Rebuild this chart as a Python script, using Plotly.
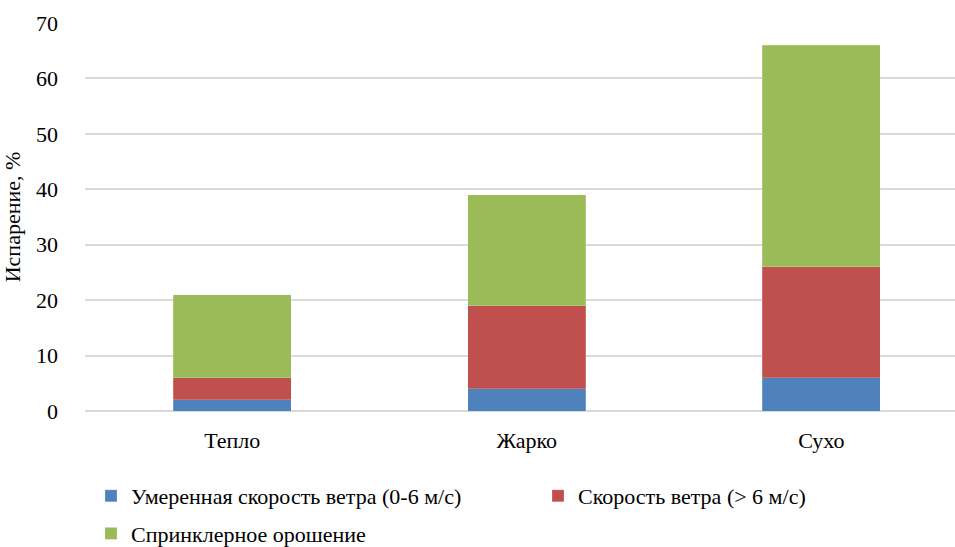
import plotly.graph_objects as go

# Evaporation losses by weather condition, stacked by cause
categories = ["Тепло", "Жарко", "Сухо"]
moderate_wind = [2, 4, 6]
strong_wind = [4, 15, 20]
sprinkler = [15, 20, 40]

series_names = [
    "Умеренная скорость ветра (0-6 м/с)",
    "Скорость ветра (> 6 м/с)",
    "Спринклерное орошение",
]
series_colors = ["#4F81BD", "#C0504D", "#9BBB59"]
legend_ids = ["legend", "legend2", "legend"]
legend_groups = ["a", "b", "c"]
y_ticks = [0, 10, 20, 30, 40, 50, 60, 70]

font_family = "Liberation Serif, Times New Roman, serif"
base_font = dict(family=font_family, size=22, color="black")

fig = go.Figure()
for name, vals, color, lg, grp in zip(series_names, [moderate_wind, strong_wind, sprinkler],
                                      series_colors, legend_ids, legend_groups):
    fig.add_trace(go.Bar(
        x=categories, y=vals, name=name,
        marker=dict(color=color, line=dict(color="rgba(255,255,255,0.4)", width=0.5)),
        width=0.4, legend=lg, legendgroup=grp,
    ))

legend_common = dict(
    orientation="v", xref="paper", yref="container",
    xanchor="left", yanchor="top", font=base_font,
    itemwidth=30, traceorder="grouped", tracegroupgap=6,
    bgcolor="rgba(0,0,0,0)",
)

fig.update_layout(
    barmode="stack",
    width=955, height=547,
    margin=dict(l=85, r=0, t=23, b=136),
    paper_bgcolor="white", plot_bgcolor="white",
    font=base_font,
    showlegend=True,
    legend=dict(x=(91 - 85) / 870, y=1 - 475 / 547, **legend_common),
    legend2=dict(x=(538 - 85) / 870, y=1 - 475 / 547, **legend_common),
    xaxis=dict(
        range=[-0.5, 2.454], showgrid=False, zeroline=False, showline=False,
        ticks="", ticklabelstandoff=14,
        tickfont=base_font,
    ),
    yaxis=dict(
        range=[0, 70], tickvals=y_ticks, showgrid=True,
        gridcolor="#D9D9D9", gridwidth=1.5,
        zeroline=True, zerolinecolor="#D9D9D9", zerolinewidth=1.5,
        showline=False, ticks="", ticklabelstandoff=26,
        tickfont=base_font,
        title=dict(text="Испарение, %", font=base_font, standoff=10),
    ),
)

fig.write_html("out.html")
